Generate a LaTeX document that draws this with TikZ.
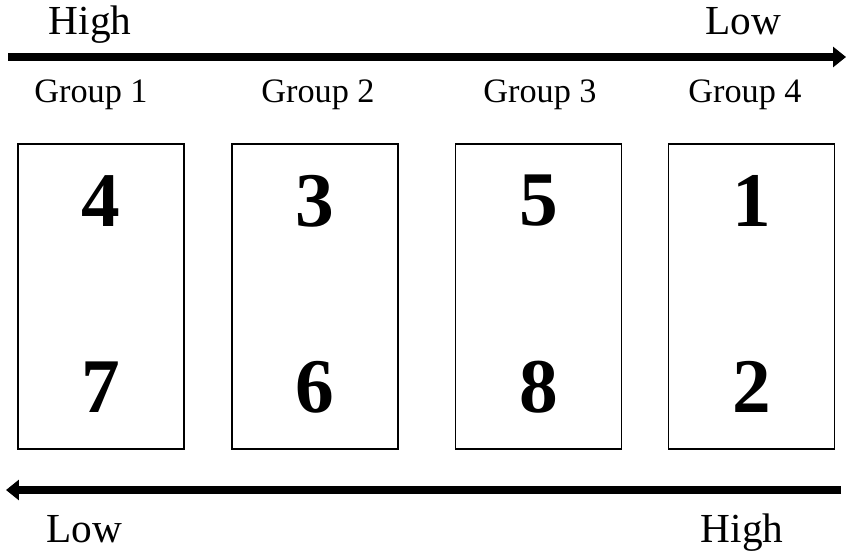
\documentclass[tikz,border=0pt]{standalone}
\usepackage{fontspec}
\setmainfont{Liberation Serif}
\usetikzlibrary{arrows.meta,positioning}

\tikzset{
  groupbox/.style={draw, line width=0.9pt, minimum width=3.32cm, minimum height=6.1cm, inner sep=0pt},
  rank/.style={font=\fontsize{44}{44}\selectfont\bfseries, inner sep=0pt},
  grouplabel/.style={font=\fontsize{19.5}{20}\selectfont, inner sep=0pt, anchor=base},
  endlabel/.style={font=\fontsize{23.5}{24}\selectfont, inner sep=0pt, anchor=base},
  bigarrow/.style={line width=4.6pt, -{Triangle[length=0.26cm, width=0.4cm]}}
}

\begin{document}
\begin{tikzpicture}
\useasboundingbox (0,0) rectangle (17,11.16);

% top scale
\coordinate (topstart) at (0.16,10.02);
\coordinate (topend) at (16.92,10.02);
\draw[bigarrow] (topstart) -- (topend);
\node[endlabel] (tophigh) at (1.80,10.46) {High};
\node[endlabel] (toplow) at (14.87,10.46) {Low};

% groups
\node[grouplabel] (g1) at (1.82,9.12) {Group 1};
\node[grouplabel] (g2) at (6.36,9.12) {Group 2};
\node[grouplabel] (g3) at (10.80,9.12) {Group 3};
\node[grouplabel] (g4) at (14.90,9.12) {Group 4};

\node[groupbox] (box1) at (2.02,5.23) {};
\node[groupbox] (box2) at (6.30,5.23) {};
\node[groupbox] (box3) at (10.77,5.23) {};
\node[groupbox] (box4) at (15.03,5.23) {};

\node[rank] (r4) at (2.02,7.14) {4};
\node[rank] (r7) at (2.02,3.42) {7};
\node[rank] (r3) at (6.30,7.14) {3};
\node[rank] (r6) at (6.30,3.42) {6};
\node[rank] (r5) at (10.77,7.14) {5};
\node[rank] (r8) at (10.77,3.42) {8};
\node[rank] (r1) at (15.03,7.14) {1};
\node[rank] (r2) at (15.03,3.42) {2};

% bottom scale
\coordinate (botstart) at (16.82,1.36);
\coordinate (botend) at (0.12,1.36);
\draw[bigarrow] (botstart) -- (botend);
\node[endlabel] (botlow) at (1.69,0.32) {Low};
\node[endlabel] (bothigh) at (14.84,0.32) {High};
\end{tikzpicture}
\end{document}
